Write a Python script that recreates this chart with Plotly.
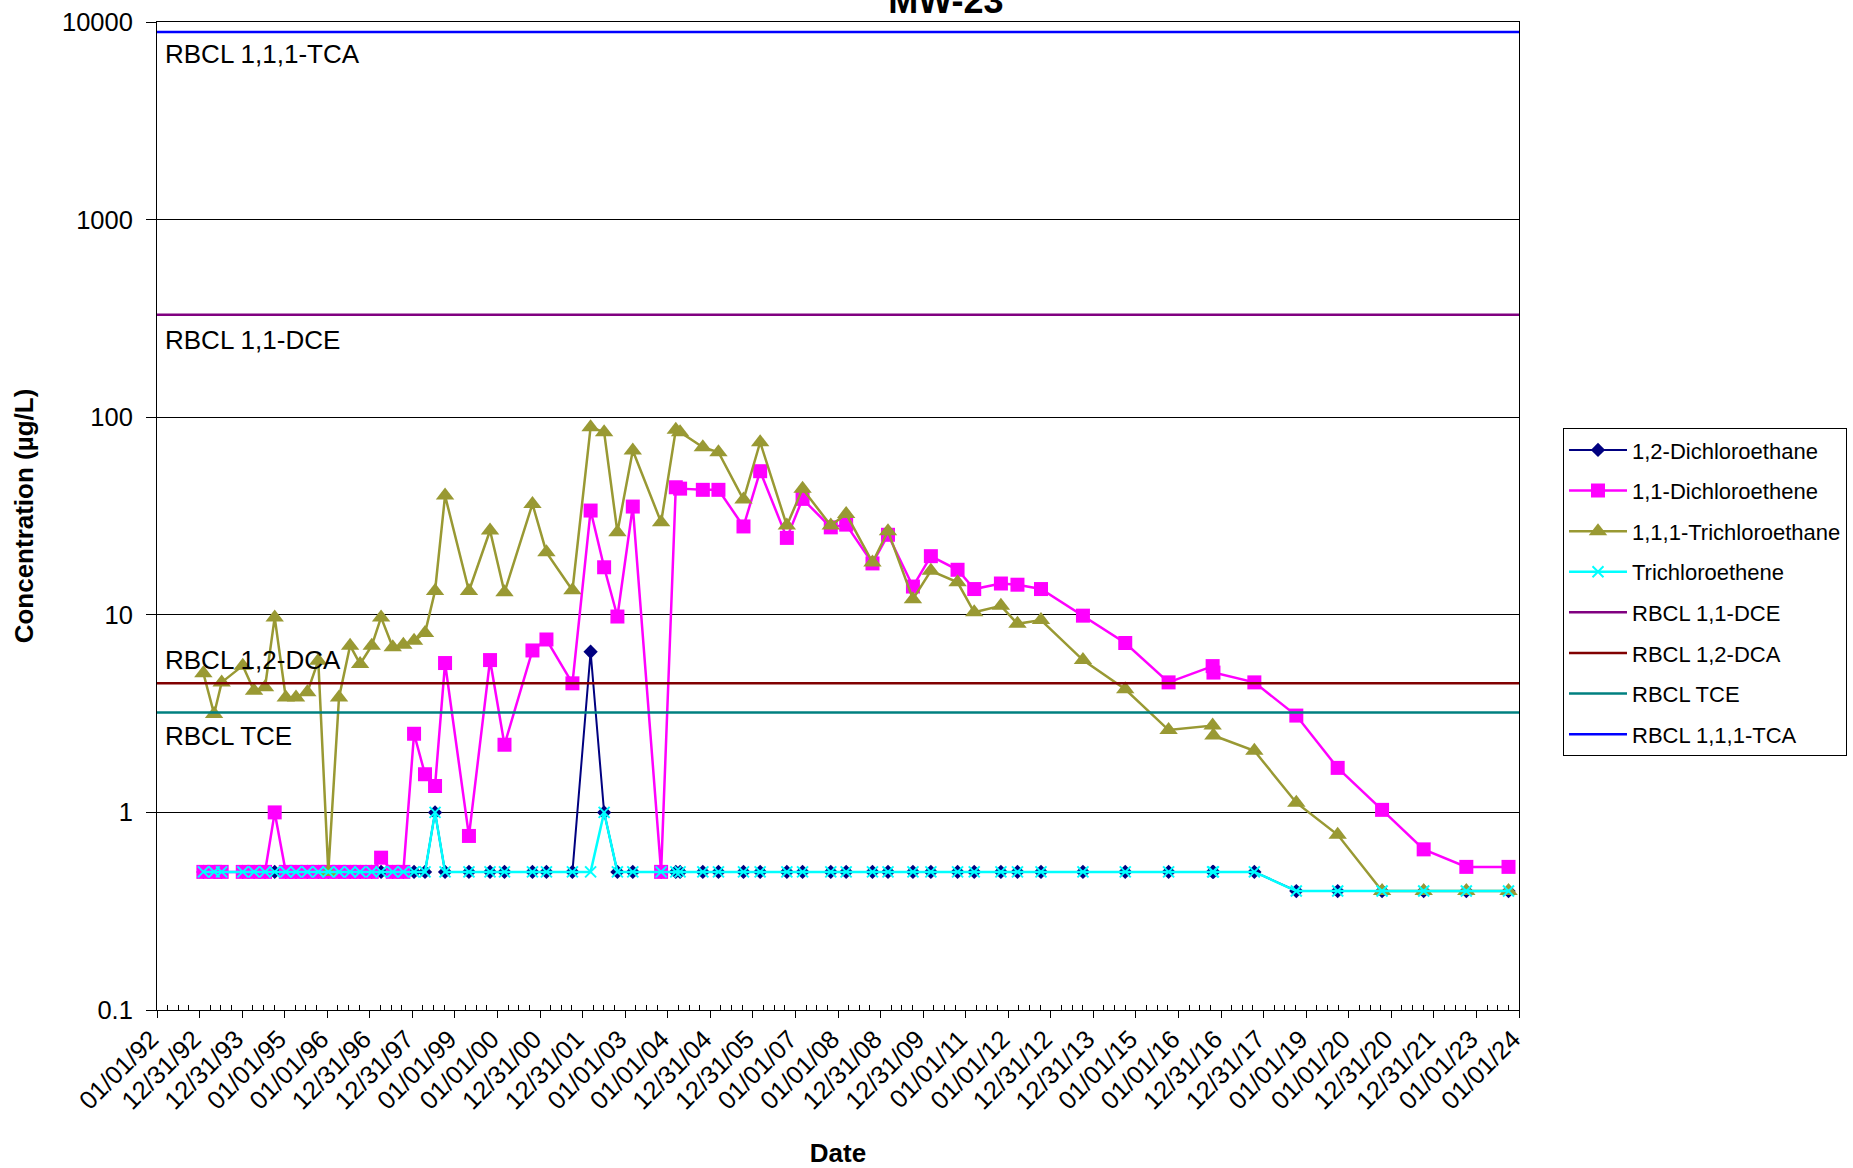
import math
from datetime import datetime
import plotly.graph_objects as go

# ---------------- data ----------------
dates = [
    "1993-02-02", "1993-05-05", "1993-07-09", "1994-01-06", "1994-04-13", "1994-07-16", "1994-10-07",
    "1995-01-10", "1995-04-08", "1995-07-14", "1995-10-16", "1996-01-10", "1996-04-11", "1996-07-15", "1996-10-09",
    "1997-01-17", "1997-04-07", "1997-07-16", "1997-10-15", "1998-01-15", "1998-04-19", "1998-07-14", "1998-10-08",
    "1999-05-01", "1999-10-29", "2000-03-01", "2000-10-27", "2001-02-24", "2001-10-05", "2002-03-10", "2002-07-04",
    "2002-10-26", "2003-03-07", "2003-11-05", "2004-03-10", "2004-04-16", "2004-10-28", "2005-03-11", "2005-10-12",
    "2006-03-04", "2006-10-19", "2007-03-03", "2007-10-31", "2008-03-11", "2008-10-23", "2009-03-05", "2009-10-05",
    "2010-03-08", "2010-10-23", "2011-03-15", "2011-10-30", "2012-03-20", "2012-10-08", "2013-10-03", "2014-10-01",
    "2015-10-08", "2016-10-20", "2016-10-27", "2017-10-13", "2018-10-08", "2019-09-28", "2020-10-13", "2021-10-05",
    "2022-10-06", "2023-10-03",
]

dichloroethane_12 = (
    [0.5] * 21 + [1.0] + [0.5] * 7 + [6.5, 1.0] + [0.5] * 28 + [0.4] * 6
)

dichloroethene_11 = (
    [0.5] * 6 + [1.0] + [0.5] * 9
    + [0.59, 0.5, 0.5, 2.5, 1.56, 1.36, 5.7, 0.76, 5.9, 2.2, 6.6, 7.5, 4.5,
       33.7, 17.4, 9.8, 35.3, 0.5, 44.2, 43.5, 42.9, 42.9, 28.0, 53.3, 24.5,
       38.6, 27.7, 28.6, 18.2, 25.4, 13.9, 19.8, 16.9, 13.5, 14.4, 14.2, 13.5,
       9.9, 7.2, 4.55, 5.5, 5.1, 4.55, 3.09, 1.68, 1.03, 0.65, 0.53, 0.53]
)

trichloroethane_111 = [
    5.06, 3.15, 4.55, 5.53, 4.13, 4.3, 9.7, 3.82, 3.82, 4.05,
    5.86, 0.5, 3.82, 6.98, 5.64, 6.98, 9.7, 6.85, 7.06, 7.4,
    8.1, 13.2, 40.1, 13.2, 26.7, 13.0, 36.4, 20.7, 13.3, 89.0,
    84.0, 26.2, 67.8, 29.4, 86.3, 84.0, 70.5, 66.5, 38.3, 74.7,
    28.3, 43.4, 28.3, 32.4, 18.4, 26.5, 12.0, 16.7, 14.6, 10.3,
    11.1, 9.0, 9.4, 5.9, 4.2, 2.61, 2.75, 2.45, 2.05, 1.12,
    0.77, 0.4, 0.4, 0.4, 0.4,
]

trichloroethene = (
    [0.5] * 21 + [1.0] + [0.5] * 7 + [0.5, 1.0] + [0.5] * 28 + [0.4] * 6
)

rbcl_dce = 330
rbcl_dca = 4.5
rbcl_tce = 3.2
rbcl_tca = 8900

x_start = "1992-01-01"
x_end = "2024-01-01"
x_tick_labels = [
    "01/01/92", "12/31/92", "12/31/93", "01/01/95", "01/01/96", "12/31/96", "12/31/97",
    "01/01/99", "01/01/00", "12/31/00", "12/31/01", "01/01/03", "01/01/04", "12/31/04",
    "12/31/05", "01/01/07", "01/01/08", "12/31/08", "12/31/09", "01/01/11", "01/01/12",
    "12/31/12", "12/31/13", "01/01/15", "01/01/16", "12/31/16", "12/31/17", "01/01/19",
    "01/01/20", "12/31/20", "12/31/21", "01/01/23", "01/01/24",
]
y_tick_vals = [0.1, 1, 10, 100, 1000, 10000]
y_tick_labels = ["0.1", "1", "10", "100", "1000", "10000"]

# ---------------- derived axis helpers ----------------
tick_dates = [datetime.strptime(s, "%m/%d/%y") for s in x_tick_labels]
minor_dates = []
for a, b in zip(tick_dates[:-1], tick_dates[1:]):
    step = (b - a) / 4
    for k in range(1, 4):
        minor_dates.append(a + step * k)

FONT = "Liberation Sans, Arial, sans-serif"

fig = go.Figure()

fig.add_trace(go.Scatter(
    x=dates, y=dichloroethane_12, name="1,2-Dichloroethane", mode="lines+markers",
    line=dict(color="#000080", width=2),
    marker=dict(symbol="diamond", size=11, color="#000080"),
    legendgroup="a",
))
fig.add_trace(go.Scatter(
    x=dates, y=dichloroethene_11, name="1,1-Dichloroethene", mode="lines+markers",
    line=dict(color="#FF00FF", width=2.5),
    marker=dict(symbol="square", size=14, color="#FF00FF"),
    legendgroup="b",
))
fig.add_trace(go.Scatter(
    x=dates, y=trichloroethane_111, name="1,1,1-Trichloroethane", mode="lines+markers",
    line=dict(color="#999933", width=2.5),
    marker=dict(symbol="triangle-up", size=16, color="#999933"),
    legendgroup="c",
))
fig.add_trace(go.Scatter(
    x=dates, y=trichloroethene, name="Trichloroethene", mode="lines+markers",
    line=dict(color="#00FFFF", width=2.5),
    marker=dict(symbol="x-thin", size=11, color="#00FFFF",
                line=dict(color="#00FFFF", width=2)),
    legendgroup="d",
))

ref_lines = [
    ("RBCL 1,1-DCE", rbcl_dce, "#800080"),
    ("RBCL 1,2-DCA", rbcl_dca, "#800000"),
    ("RBCL TCE", rbcl_tce, "#008080"),
    ("RBCL 1,1,1-TCA", rbcl_tca, "#0000FF"),
]
for i, (nm, val, col) in enumerate(ref_lines):
    fig.add_trace(go.Scatter(
        x=[x_start, x_end], y=[val, val], name=nm, mode="lines",
        line=dict(color=col, width=2.5), legendgroup="r%d" % i,
    ))

# labels for reference lines
label_specs = [
    ("RBCL 1,1,1-TCA", rbcl_tca, "top", -4.5),
    ("RBCL 1,1-DCE", rbcl_dce, "top", -8),
    ("RBCL 1,2-DCA", rbcl_dca, "bottom", 6.5),
    ("RBCL TCE", rbcl_tce, "top", -6.5),
]
annotations = []
for txt, val, anc, ys in label_specs:
    annotations.append(dict(
        text=txt, xref="paper", x=0, xanchor="left", xshift=6,
        yref="y", y=math.log10(val), yanchor=anc, yshift=ys,
        showarrow=False, font=dict(family=FONT, size=26, color="black"),
    ))

fig.update_layout(
    width=1853, height=1168,
    margin=dict(l=157, r=334, t=22, b=158, autoexpand=False),
    paper_bgcolor="white", plot_bgcolor="white",
    font=dict(family=FONT, color="black"),
    title=dict(text="<b>MW-23</b>", font=dict(family=FONT, size=36, color="black"),
               x=946 / 1853, xanchor="center", xref="container",
               y=0.9993, yanchor="middle", yref="container", automargin=False),
    showlegend=True,
    legend=dict(
        x=1.0323, y=0.5889, xanchor="left", yanchor="top",
        bordercolor="black", borderwidth=1, bgcolor="white",
        font=dict(family=FONT, size=22, color="black"),
        traceorder="grouped", tracegroupgap=9, itemwidth=58,
    ),
    annotations=annotations,
)

fig.update_xaxes(
    type="date", range=[x_start, x_end], automargin=False,
    tickmode="array", tickvals=tick_dates, ticktext=x_tick_labels,
    tickangle=-45, tickfont=dict(family=FONT, size=25.5, color="black"),
    ticklabelshift=-6, ticklabelstandoff=-4,
    ticks="outside", ticklen=7, tickcolor="black", tickwidth=1,
    showline=True, linecolor="black", linewidth=1, mirror=True,
    showgrid=False, zeroline=False,
    minor=dict(tickmode="array", tickvals=minor_dates, ticks="inside",
               ticklen=5, tickcolor="black", tickwidth=1, showgrid=False),
    title=dict(text="<b>Date</b>", font=dict(family=FONT, size=26, color="black"),
               standoff=32),
)
fig.update_yaxes(
    type="log", range=[-1, 4], automargin=False,
    tickmode="array", tickvals=y_tick_vals, ticktext=y_tick_labels,
    tickfont=dict(family=FONT, size=25.5, color="black"),
    ticklabelstandoff=8,
    ticks="outside", ticklen=10, tickcolor="black", tickwidth=1,
    showline=True, linecolor="black", linewidth=1, mirror=True,
    showgrid=True, gridcolor="black", gridwidth=1, zeroline=False,
    title=dict(text="<b>Concentration (µg/L)</b>",
               font=dict(family=FONT, size=26, color="black"), standoff=20),
)

fig.write_html("out.html", config={"displayModeBar": False},
               post_script="document.body.style.margin='0px';")
